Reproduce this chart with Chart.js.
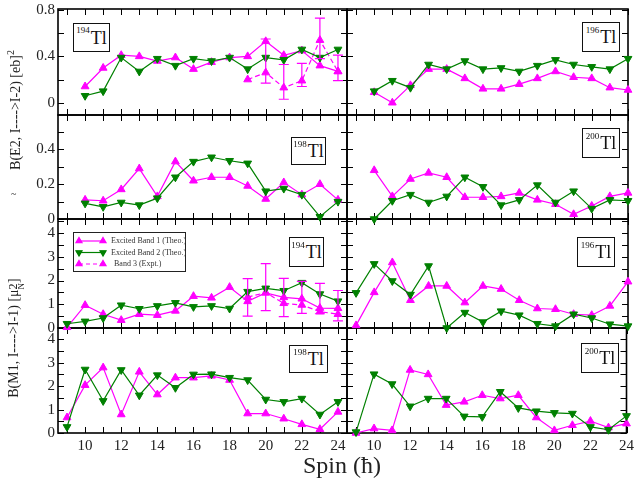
<!DOCTYPE html>
<html>
<head>
<meta charset="utf-8">
<script src="https://cdn.jsdelivr.net/npm/chart.js@4.4.1/dist/chart.umd.min.js"></script>
<style>
  body { margin: 0; background: #fff; }
  #page { position: relative; width: 638px; height: 484px; overflow: hidden;
          font-family: 'Liberation Serif', 'Times New Roman', serif; color: #222; }
  canvas { position: absolute; }
  .nuc { position: absolute; box-sizing: border-box; border: 1.4px solid #111; background: #fff;
         font-size: 18px; line-height: 1; color: #111; display: flex; align-items: center; justify-content: center; }
  .nuc sup { font-size: 9px; position: relative; top: -7px; vertical-align: baseline; margin-right: 1px; }
  .ytitle { position: absolute; white-space: nowrap; font-size: 14px; line-height: 1;
            transform: translate(-50%, -50%) rotate(-90deg); }
  .ytitle sup { font-size: 10px; position: relative; top: -6px; vertical-align: baseline; }
  .stack { display: inline-block; vertical-align: -6px; line-height: 0.85; text-align: left; }
  .stack span { display: block; }
  #xtitle { position: absolute; left: 342px; top: 452px; transform: translateX(-50%);
            font-size: 24px; white-space: nowrap; }
</style>
</head>
<body>
<div id="page">
  <div class="ytitle" style="left:16px; top:110px;">B(E2, I----&gt;I-2) [eb]<sup>2</sup></div>
  <div class="ytitle" style="left:16px; top:338px;">B(M1, I----&gt;I-1) [μ<span class="stack"><span style="font-size:12px">2</span><span style="font-size:9px">N</span></span>]</div>
  <div style="position:absolute; left:11px; top:188px; font-size:10px;">~</div>
  <div id="xtitle">Spin (ħ)</div>
</div>

<script>
// Spin values (hbar) on the x axis
const spinE2 = [10, 11, 12, 13, 14, 15, 16, 17, 18, 19, 20, 21, 22, 23, 24];
const spinM1 = [9, 10, 11, 12, 13, 14, 15, 16, 17, 18, 19, 20, 21, 22, 23, 24];
const spinExpt = [19, 20, 21, 22, 23, 24];
const spinTickLabels = [10, 12, 14, 16, 18, 20, 22, 24];

// Tick labels for the y axes
const e2UpperTicks = [0, 0.4, 0.8];
const e2LowerTicks = [0, 0.2, 0.4];
const m1Ticks = [0, 1, 2, 3, 4];

// Series labels
const seriesLabels = ['Excited Band 1 (Theo.)', 'Excited Band 2 (Theo.)', 'Band 3 (Expt.)'];

// B(E2) values [eb]^2
const e2Tl194Band1 = [0.14, 0.30, 0.41, 0.40, 0.36, 0.39, 0.29, 0.35, 0.39, 0.40, 0.53, 0.41, 0.45, 0.32, 0.27];
const e2Tl194Band2 = [0.06, 0.10, 0.39, 0.27, 0.38, 0.32, 0.38, 0.36, 0.39, 0.29, 0.39, 0.37, 0.46, 0.39, 0.46];
const e2Tl194Expt = [0.20, 0.26, 0.13, 0.19, 0.54, 0.27];
const e2Tl194ExptLo = [null, 0.17, 0.03, 0.14, 0.38, 0.19];
const e2Tl194ExptHi = [null, 0.55, 0.33, 0.34, 0.73, 0.41];

const e2Tl196Band1 = [0.09, 0.00, 0.15, 0.29, 0.29, 0.21, 0.12, 0.12, 0.16, 0.21, 0.27, 0.22, 0.21, 0.13, 0.11];
const e2Tl196Band2 = [0.10, 0.19, 0.13, 0.33, 0.29, 0.36, 0.29, 0.30, 0.27, 0.32, 0.37, 0.33, 0.31, 0.29, 0.38];

const e2Tl198Band1 = [0.11, 0.105, 0.17, 0.29, 0.13, 0.33, 0.22, 0.24, 0.24, 0.19, 0.115, 0.21, 0.14, 0.20, 0.11];
const e2Tl198Band2 = [0.09, 0.07, 0.095, 0.08, 0.12, 0.24, 0.33, 0.355, 0.335, 0.32, 0.16, 0.175, 0.14, 0.013, 0.10];

const e2Tl200Band1 = [0.28, 0.13, 0.23, 0.265, 0.24, 0.125, 0.125, 0.13, 0.15, 0.11, 0.085, 0.027, 0.075, 0.13, 0.15];
const e2Tl200Band2 = [0.00, 0.105, 0.14, 0.095, 0.13, 0.24, 0.185, 0.08, 0.11, 0.195, 0.095, 0.16, 0.06, 0.11, 0.105];

// B(M1) values [mu_N^2]
const m1Tl194Band1 = [0.03, 0.96, 0.58, 0.33, 0.58, 0.54, 0.72, 1.34, 1.27, 1.72, 1.12, 1.48, 1.29, 1.23, 0.84, 0.83];
const m1Tl194Band2 = [0.18, 0.28, 0.42, 0.96, 0.81, 0.93, 1.06, 0.89, 0.93, 0.82, 1.53, 1.67, 1.57, 1.91, 1.43, 1.13];
const m1Tl194Expt = [1.30, 1.49, 1.04, 0.97, 0.69, 0.58];
const m1Tl194ExptLo = [0.50, 0.73, 0.48, 0.62, 0.60, 0.30];
const m1Tl194ExptHi = [2.08, 2.71, 2.09, 1.96, 1.88, 1.58];

const m1Tl196Band1 = [0.11, 1.50, 2.76, 1.17, 1.77, 1.77, 1.07, 1.77, 1.64, 1.17, 0.82, 0.79, 0.58, 0.54, 0.93, 1.95];
const m1Tl196Band2 = [1.48, 2.70, 1.98, 1.41, 2.61, 0.00, 0.65, 0.25, 0.71, 0.54, 0.18, 0.08, 0.58, 0.42, 0.16, 0.08];

const m1Tl198Band1 = [0.66, 2.04, 2.79, 0.79, 2.61, 1.64, 2.36, 2.36, 2.44, 2.26, 0.83, 0.83, 0.61, 0.37, 0.16, 0.90];
const m1Tl198Band2 = [0.26, 2.71, 1.37, 2.69, 1.61, 2.47, 1.93, 2.50, 2.51, 2.36, 2.26, 1.43, 1.33, 1.47, 0.79, 1.33];

const m1Tl200Band1 = [0.00, 0.19, 0.11, 2.69, 2.50, 1.19, 1.33, 1.61, 1.47, 1.61, 0.66, 0.11, 0.33, 0.51, 0.23, 0.40];
const m1Tl200Band2 = [0.04, 2.51, 2.09, 1.14, 1.47, 1.47, 0.71, 0.69, 1.76, 1.07, 0.93, 0.86, 0.83, 0.26, 0.14, 0.73];

const MAGENTA = '#ff00ff';
const GREEN = '#008000';
const SERIF = "'Liberation Serif', 'Times New Roman', serif";

// Panel grid: columns and rows in page pixels
const COLS = [
    { canvasLeft: 0, width: 360, padLeft: 0, padRight: 13, xMax: 24.5, showY: true },
    { canvasLeft: 335, width: 303, padLeft: 12, padRight: 10, xMax: 24, showY: false }
];
const ROWS = [
    { top: 9, bottom: 115, min: -0.106, max: 0.809, ticks: e2UpperTicks, minor: 0.2 },
    { top: 115, bottom: 219, min: 0, max: 0.598, ticks: e2LowerTicks, minor: 0.1 },
    { top: 219, bottom: 328, min: 0, max: 4.59, ticks: m1Ticks, minor: 0.5 },
    { top: 328, bottom: 433, min: 0, max: 4.48, ticks: m1Ticks, minor: 0.5 }
];

const panels = [
    { row: 0, col: 0, mass: 194, spins: spinE2, b1: e2Tl194Band1, b2: e2Tl194Band2,
      expt: { v: e2Tl194Expt, lo: e2Tl194ExptLo, hi: e2Tl194ExptHi }, box: [73, 23, 37, 29] },
    { row: 0, col: 1, mass: 196, spins: spinE2, b1: e2Tl196Band1, b2: e2Tl196Band2, box: [582, 22, 38, 30] },
    { row: 1, col: 0, mass: 198, spins: spinE2, b1: e2Tl198Band1, b2: e2Tl198Band2, box: [291, 137, 35, 28] },
    { row: 1, col: 1, mass: 200, spins: spinE2, b1: e2Tl200Band1, b2: e2Tl200Band2, box: [582, 128, 38, 30] },
    { row: 2, col: 0, mass: 194, spins: spinM1, b1: m1Tl194Band1, b2: m1Tl194Band2,
      expt: { v: m1Tl194Expt, lo: m1Tl194ExptLo, hi: m1Tl194ExptHi }, box: [289, 237, 35, 30], legend: true },
    { row: 2, col: 1, mass: 196, spins: spinM1, b1: m1Tl196Band1, b2: m1Tl196Band2, box: [577, 237, 38, 30] },
    { row: 3, col: 0, mass: 198, spins: spinM1, b1: m1Tl198Band1, b2: m1Tl198Band2, box: [289, 345, 39, 28] },
    { row: 3, col: 1, mass: 200, spins: spinM1, b1: m1Tl200Band1, b2: m1Tl200Band2, box: [581, 343, 38, 30] }
];

function pairs(xs, ys) {
    return xs.map((x, i) => ({ x: x, y: ys[i] }));
}

// Box outline with inward ticks on all four sides
function framePlugin(row) {
    return {
        id: 'frame',
        beforeDatasetsDraw(chart) {
            const { ctx, chartArea: a, scales } = chart;
            ctx.save();
            ctx.strokeStyle = '#000';
            ctx.lineWidth = 1;
            ctx.beginPath();
            for (let s = 9; s <= 24; s++) {
                const x = Math.round(scales.x.getPixelForValue(s)) + 0.5;
                ctx.moveTo(x, a.top); ctx.lineTo(x, a.top + 6);
                ctx.moveTo(x, a.bottom); ctx.lineTo(x, a.bottom - 6);
            }
            const n = Math.floor(row.max / row.minor + 1e-6);
            for (let k = 0; k <= n; k++) {
                const y = Math.round(scales.y.getPixelForValue(k * row.minor)) + 0.5;
                ctx.moveTo(a.left, y); ctx.lineTo(a.left + 6, y);
                ctx.moveTo(a.right, y); ctx.lineTo(a.right - 6, y);
            }
            ctx.stroke();
            ctx.lineWidth = 1.6;
            ctx.strokeRect(a.left, a.top, a.right - a.left, a.bottom - a.top);
            ctx.restore();
        }
    };
}

// Vertical error bars with caps for the experimental band
const errorBarPlugin = {
    id: 'errorBars',
    afterDatasetsDraw(chart) {
        const { ctx } = chart;
        const yScale = chart.scales.y;
        chart.data.datasets.forEach((ds, i) => {
            if (!ds.errLo) return;
            const meta = chart.getDatasetMeta(i);
            ctx.save();
            ctx.strokeStyle = MAGENTA;
            ctx.lineWidth = 1.2;
            meta.data.forEach((pt, j) => {
                if (ds.errLo[j] == null) return;
                const yl = yScale.getPixelForValue(ds.errLo[j]);
                const yh = yScale.getPixelForValue(ds.errHi[j]);
                ctx.beginPath();
                ctx.moveTo(pt.x, yl); ctx.lineTo(pt.x, yh);
                ctx.moveTo(pt.x - 5, yl); ctx.lineTo(pt.x + 5, yl);
                ctx.moveTo(pt.x - 5, yh); ctx.lineTo(pt.x + 5, yh);
                ctx.stroke();
            });
            ctx.restore();
        });
    }
};

// Boxed legend in the upper left of the panel
const legendBoxPlugin = {
    id: 'legendBox',
    afterDraw(chart) {
        const { ctx, chartArea: a } = chart;
        const left = a.left + 15, top = a.top + 13, w = 112, h = 39;
        ctx.save();
        ctx.fillStyle = '#fff';
        ctx.fillRect(left, top, w, h);
        ctx.strokeStyle = '#222';
        ctx.lineWidth = 1;
        ctx.strokeRect(left + 0.5, top + 0.5, w, h);
        const items = [
            { color: MAGENTA, dash: [], rot: 0 },
            { color: GREEN, dash: [], rot: 180 },
            { color: MAGENTA, dash: [4, 3], rot: 0 }
        ];
        items.forEach((it, i) => {
            const y = top + 9 + i * 11.5;
            ctx.strokeStyle = it.color;
            ctx.lineWidth = 1.2;
            ctx.setLineDash(it.dash);
            ctx.beginPath();
            ctx.moveTo(left + 6, y); ctx.lineTo(left + 30, y);
            ctx.stroke();
            ctx.setLineDash([]);
            ctx.fillStyle = it.color;
            [left + 6, left + 30].forEach(px => {
                Chart.helpers.drawPoint(ctx, { pointStyle: 'triangle', radius: 3.5, rotation: it.rot, borderWidth: 1 }, px, y);
                ctx.fill();
            });
            ctx.fillStyle = '#333';
            ctx.font = '8px ' + SERIF;
            ctx.textBaseline = 'middle';
            ctx.fillText(seriesLabels[i], left + 38 + (i === 2 ? 3 : 0), y);
        });
        ctx.restore();
    }
};

function lineSet(label, xs, ys, color, down, order) {
    return {
        label: label,
        data: pairs(xs, ys),
        borderColor: color,
        backgroundColor: color,
        borderWidth: 1.2,
        pointStyle: 'triangle',
        pointRotation: down ? 180 : 0,
        pointRadius: 4.5,
        pointBorderWidth: 1,
        pointBorderColor: color,
        pointBackgroundColor: color,
        tension: 0,
        clip: false,
        order: order
    };
}

const page = document.getElementById('page');

panels.forEach(p => {
    const col = COLS[p.col];
    const row = ROWS[p.row];
    const isBottom = p.row === 3;
    const padBottom = isBottom ? 8 : 16;
    const xAxisH = isBottom ? 22 : 0;
    const yAxisW = col.showY ? 58 : 0;
    const height = (row.bottom - row.top) + 16 + padBottom + xAxisH;

    const canvas = document.createElement('canvas');
    canvas.width = col.width;
    canvas.height = height;
    canvas.style.left = col.canvasLeft + 'px';
    canvas.style.top = (row.top - 16) + 'px';
    page.insertBefore(canvas, page.firstChild);

    const datasets = [
        lineSet(seriesLabels[1], p.spins, p.b2, GREEN, true, 0),
        lineSet(seriesLabels[0], p.spins, p.b1, MAGENTA, false, 1)
    ];
    if (p.expt) {
        const ds = lineSet(seriesLabels[2], spinExpt, p.expt.v, MAGENTA, false, 2);
        ds.borderDash = [5, 3];
        ds.errLo = p.expt.lo;
        ds.errHi = p.expt.hi;
        datasets.push(ds);
    }

    const tickFont = { family: SERIF, size: 15 };
    const plugins = [framePlugin(row), errorBarPlugin];
    if (p.legend) plugins.push(legendBoxPlugin);

    new Chart(canvas, {
        type: 'line',
        data: { datasets: datasets },
        options: {
            responsive: false,
            animation: false,
            devicePixelRatio: 1,
            layout: { padding: { left: col.padLeft, right: col.padRight, top: 16, bottom: padBottom } },
            plugins: { legend: { display: false }, tooltip: { enabled: false } },
            scales: {
                x: {
                    type: 'linear',
                    min: 8.5,
                    max: col.xMax,
                    display: isBottom,
                    grid: { display: false, drawTicks: false },
                    border: { display: false },
                    afterBuildTicks: s => { s.ticks = spinTickLabels.map(v => ({ value: v })); },
                    afterFit: s => { s.height = xAxisH; },
                    ticks: { font: tickFont, color: '#222', padding: 4, maxRotation: 0, autoSkip: false,
                             callback: v => String(v) }
                },
                y: {
                    type: 'linear',
                    min: row.min,
                    max: row.max,
                    display: col.showY,
                    grid: { display: false, drawTicks: false },
                    border: { display: false },
                    afterBuildTicks: s => { s.ticks = row.ticks.map(v => ({ value: v })); },
                    afterFit: s => { s.width = yAxisW; },
                    ticks: { font: tickFont, color: '#222', padding: 3, autoSkip: false,
                             callback: v => String(v) }
                }
            }
        },
        plugins: plugins
    });

    // Nucleus label box
    const box = document.createElement('div');
    box.className = 'nuc';
    box.style.left = p.box[0] + 'px';
    box.style.top = p.box[1] + 'px';
    box.style.width = p.box[2] + 'px';
    box.style.height = p.box[3] + 'px';
    box.innerHTML = '<sup>' + p.mass + '</sup>Tl';
    page.appendChild(box);
});
</script>
</body>
</html>
